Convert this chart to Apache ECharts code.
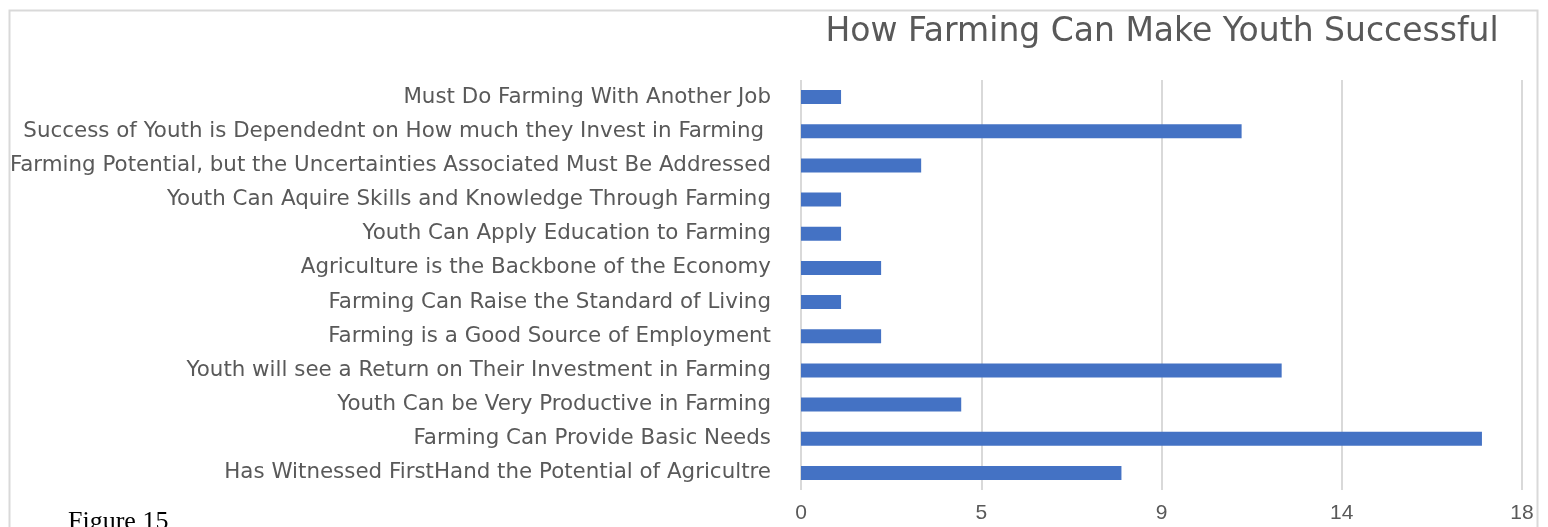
<!DOCTYPE html>
<html>
<head>
<meta charset="utf-8">
<script src="https://cdn.jsdelivr.net/npm/echarts@6/dist/echarts.min.js"></script>
<style>
  html, body { margin: 0; padding: 0; background: #ffffff; }
  #chart { width: 1548px; height: 527px; }
</style>
</head>
<body>
<div id="chart"></div>
<script>
// Survey responses: how farming can make youth successful
const categories = [
  'Must Do Farming With Another Job',
  'Success of Youth is Dependednt on How much they Invest in Farming ',
  'Farming Potential, but the Uncertainties Associated Must Be Addressed',
  'Youth Can Aquire Skills and Knowledge Through Farming',
  'Youth Can Apply Education to Farming',
  'Agriculture is the Backbone of the Economy',
  'Farming Can Raise the Standard of Living',
  'Farming is a Good Source of Employment',
  'Youth will see a Return on Their Investment in Farming',
  'Youth Can be Very Productive in Farming',
  'Farming Can Provide Basic Needs',
  'Has Witnessed FirstHand the Potential of Agricultre'
];
const counts = [1, 11, 3, 1, 1, 2, 1, 2, 12, 4, 17, 8];

const axisMin = 0;
const axisMax = 18;
const axisStep = 4.5;

const titleText = 'How Farming Can Make Youth Successful';
const captionText = 'Figure 15';

const labelFont = '"DejaVu Sans", sans-serif';
const textColor = '#595959';

const chart = echarts.init(document.getElementById('chart'), null, { renderer: 'canvas' });

chart.setOption({
  animation: false,
  backgroundColor: '#ffffff',
  title: {
    text: titleText,
    left: 1157,
    top: 11,
    textAlign: 'center',
    textStyle: {
      fontFamily: labelFont,
      fontWeight: 'normal',
      fontSize: 33,
      color: textColor
    }
  },
  grid: {
    left: 801,
    right: 26,
    top: 80,
    bottom: 37,
    containLabel: false
  },
  xAxis: {
    type: 'value',
    min: axisMin,
    max: axisMax,
    interval: axisStep,
    axisLine: { show: false },
    axisTick: { show: false },
    axisLabel: {
      color: textColor,
      fontFamily: '"Liberation Sans", sans-serif',
      fontSize: 21,
      margin: 13,
      formatter: v => String(Math.round(v))
    },
    splitLine: { show: true, lineStyle: { color: '#d9d9d9', width: 2 } }
  },
  yAxis: {
    type: 'category',
    data: categories,
    inverse: true,
    axisLine: { show: false },
    axisTick: { show: false },
    axisLabel: {
      color: textColor,
      fontFamily: labelFont,
      fontSize: 21.4,
      margin: 30
    },
    splitLine: { show: false }
  },
  series: [{
    type: 'bar',
    data: counts,
    barCategoryGap: '59%',
    itemStyle: { color: '#4472c4' },
    silent: true
  }],
  graphic: [
    {
      type: 'rect',
      left: 7,
      top: 8,
      shape: { width: 1528, height: 540 },
      style: { fill: 'none', stroke: '#d9d9d9', lineWidth: 2 },
      z: -1
    },
    {
      type: 'text',
      left: 68,
      top: 509,
      style: {
        text: captionText,
        fontFamily: '"Liberation Serif", serif',
        fontSize: 26,
        fill: '#000000'
      }
    }
  ]
});
</script>
</body>
</html>
